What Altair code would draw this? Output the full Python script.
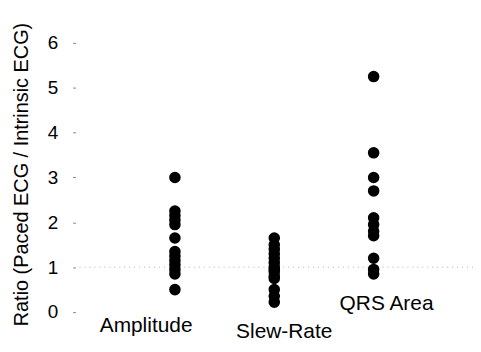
import altair as alt
import pandas as pd

# Data
categories = ["Amplitude", "Slew-Rate", "QRS Area"]
amplitude = [3.0, 2.25, 2.15, 2.05, 1.95, 1.65, 1.35, 1.25, 1.15, 1.05, 0.95, 0.85, 0.5]
slew_rate = [1.65, 1.5, 1.4, 1.3, 1.2, 1.1, 1.0, 0.95, 0.9, 0.8, 0.75, 0.5, 0.35, 0.22]
qrs_area = [5.25, 3.55, 3.0, 2.7, 2.1, 1.95, 1.8, 1.7, 1.2, 0.95, 0.85]
y_ticks = [0, 1, 2, 3, 4, 5, 6]
reference_ratio = [1.0]

rows = []
for cat, vals in zip(categories, [amplitude, slew_rate, qrs_area]):
    for v in vals:
        rows.append({"cat": cat, "ratio": v})
df = pd.DataFrame(rows)

FONT = "Liberation Sans"

xscale = alt.Scale(type="point", domain=categories, padding=1)
yscale = alt.Scale(domain=[-0.8, 6.4], nice=False, zero=False)

points = alt.Chart(df).mark_circle(size=135, color="black", opacity=1).encode(
    x=alt.X("cat:N", scale=xscale, axis=None, sort=categories),
    y=alt.Y(
        "ratio:Q",
        scale=yscale,
        axis=alt.Axis(
            values=y_ticks,
            title="Ratio (Paced ECG / Intrinsic ECG)",
            titleFont=FONT,
            titleFontSize=20,
            titleFontWeight="normal",
            titleColor="black",
            titleAngle=270,
            titleBaseline="bottom",
            titleX=-44,
            titleY=150,
            titleAlign="center",
            labelFont=FONT,
            labelFontSize=19,
            labelColor="black",
            labelPadding=15,
            tickSize=3,
            tickColor="#888",
            domain=False,
            grid=False,
        ),
    ),
)

ref = alt.Chart(pd.DataFrame({"r": reference_ratio})).mark_rule(
    color="#b0b0b0", strokeDash=[1, 4], strokeWidth=1
).encode(y=alt.Y("r:Q", scale=yscale))

label_layers = []
label_style = {"Amplitude": (303, -29), "Slew-Rate": (309, 10), "QRS Area": (281, 13)}
for cat in categories:
    ypix, dx = label_style[cat]
    label_layers.append(
        alt.Chart(pd.DataFrame({"cat": [cat]})).mark_text(
            font=FONT, fontSize=21, color="black", dx=dx, baseline="middle"
        ).encode(
            x=alt.X("cat:N", scale=xscale, sort=categories),
            y=alt.value(ypix),
            text="cat:N",
        )
    )

chart = alt.layer(ref, points, *label_layers).properties(
    width=400,
    height=325,
    autosize=alt.AutoSizeParams(type="none"),
    padding={"left": 68, "top": 16, "right": 0, "bottom": 0},
).configure_view(stroke=None)

chart.save("out.html", embed_options={"renderer": "svg", "actions": False})
